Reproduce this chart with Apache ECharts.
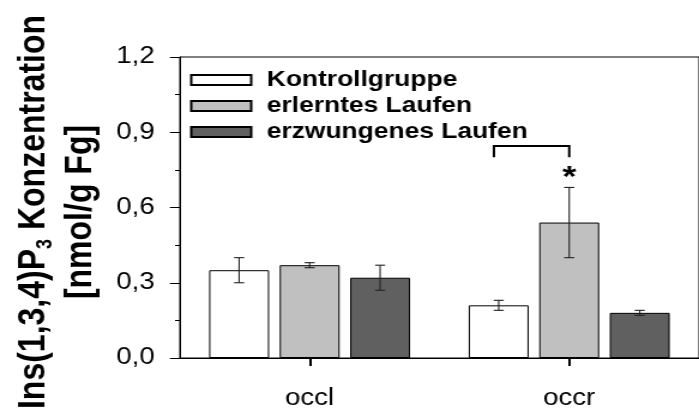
<!DOCTYPE html>
<html>
<head>
<meta charset="utf-8">
<script src="https://cdn.jsdelivr.net/npm/echarts@6/dist/echarts.min.js"></script>
<style>
  html, body { margin: 0; padding: 0; background: #fff; overflow: hidden; }
  #wrap { width: 699px; height: 410px; overflow: hidden; }
  /* the figure is laid out narrow and widened horizontally */
  #chart { width: 583px; height: 410px; transform: scaleX(1.19897); transform-origin: 0 0; }
</style>
</head>
<body>
<div id="wrap"><div id="chart"></div></div>
<script>
// Brain regions on the x axis
const categories = ['occl', 'occr'];
// Groups (legend order)
const groupNames = ['Kontrollgruppe', 'erlerntes Laufen', 'erzwungenes Laufen'];
const groupColors = ['#ffffff', '#c0c0c0', '#606060'];

// Ins(1,3,4)P3 concentration [nmol/g Fg], mean and error per region
const kontrollMean  = [0.35, 0.21];
const kontrollErr   = [0.05, 0.02];
const erlerntMean   = [0.37, 0.54];
const erlerntErr    = [0.01, 0.14];
const erzwungenMean = [0.32, 0.18];
const erzwungenErr  = [0.05, 0.01];

// y axis
const yMin = 0;
const yMax = 1.2;
const yStep = 0.3;

// significance marker: region index, first group, second group, bracket level, leg end, star level
const sigRegion = [1];
const sigGroups = [[0, 1]];
const sigLevels = [[0.845, 0.80, 0.72]];

const FONT = "'Liberation Sans', Arial, Helvetica, sans-serif";
const BAR_W = 50;
const BAR_GAP = 0.176;
const STEP = BAR_W * (1 + BAR_GAP);

const means = [kontrollMean, erlerntMean, erzwungenMean];
const errs = [kontrollErr, erlerntErr, erzwungenErr];

const chart = echarts.init(document.getElementById('chart'), null, { renderer: 'canvas' });

function errorRenderer(g) {
  return function (params, api) {
    const c = api.value(0);
    const m = api.value(1);
    const e = api.value(2);
    const x = api.coord([c, m])[0] + (g - 1) * STEP;
    const yHi = api.coord([c, m + e])[1];
    const yLo = api.coord([c, m - e])[1];
    const cap = 4.2;
    const st = { stroke: '#222', lineWidth: 1.1 };
    return {
      type: 'group',
      children: [
        { type: 'line', shape: { x1: x, y1: yHi, x2: x, y2: yLo }, style: st },
        { type: 'line', shape: { x1: x - cap, y1: yHi, x2: x + cap, y2: yHi }, style: st },
        { type: 'line', shape: { x1: x - cap, y1: yLo, x2: x + cap, y2: yLo }, style: st }
      ]
    };
  };
}

const series = [];
groupNames.forEach(function (name, g) {
  series.push({
    name: name,
    type: 'bar',
    data: means[g],
    barWidth: BAR_W,
    barGap: (BAR_GAP * 100) + '%',
    itemStyle: { color: groupColors[g], borderColor: '#000', borderWidth: 1 },
    z: 2
  });
});
groupNames.forEach(function (name, g) {
  series.push({
    type: 'custom',
    name: name + ' SEM',
    data: means[g].map(function (m, i) { return [i, m, errs[g][i]]; }),
    renderItem: errorRenderer(g),
    z: 5,
    silent: true
  });
});
series.push({
  type: 'custom',
  name: 'Signifikanz',
  data: sigRegion.map(function (r, k) {
    return [r, sigGroups[k][0], sigGroups[k][1], sigLevels[k][0], sigLevels[k][1], sigLevels[k][2]];
  }),
  renderItem: function (params, api) {
    const c = api.value(0);
    const center = api.coord([c, 0])[0];
    const xa = center + (api.value(1) - 1) * STEP - 4;
    const xb = center + (api.value(2) - 1) * STEP;
    const yTop = api.coord([c, api.value(3)])[1];
    const yLeg = api.coord([c, api.value(4)])[1];
    const yStar = api.coord([c, api.value(5)])[1];
    return {
      type: 'group',
      children: [
        { type: 'polyline', shape: { points: [[xa, yLeg], [xa, yTop], [xb, yTop], [xb, yLeg]] },
          style: { stroke: '#000', lineWidth: 2, fill: null } },
        { type: 'text', x: xb, y: yStar,
          style: { text: '*', fill: '#000', font: 'bold 30px ' + FONT, align: 'center', verticalAlign: 'middle' } }
      ]
    };
  },
  z: 6,
  silent: true
});

chart.setOption({
  animation: false,
  backgroundColor: '#fff',
  grid: {
    left: 150, top: 57, width: 441, height: 301.5,
    show: true, borderColor: '#000', borderWidth: 1, backgroundColor: 'transparent'
  },
  legend: {
    data: groupNames,
    orient: 'vertical',
    left: 153.5,
    top: 64,
    itemWidth: 50,
    itemHeight: 10,
    itemGap: 4,
    icon: 'rect',
    selectedMode: false,
    textStyle: { fontFamily: FONT, fontSize: 22, fontWeight: 'bold', color: '#000', lineHeight: 20, padding: [0, 0, 0, 8] }
  },
  xAxis: {
    type: 'category',
    data: categories,
    axisLine: { show: true, lineStyle: { color: '#000', width: 1 } },
    axisTick: { show: true, alignWithLabel: true, length: 8, lineStyle: { color: '#000', width: 2 } },
    axisLabel: { fontFamily: FONT, fontSize: 23, color: '#000', margin: 29 },
    splitLine: { show: false }
  },
  yAxis: {
    type: 'value',
    min: yMin, max: yMax, interval: yStep,
    axisLine: { show: true, lineStyle: { color: '#000', width: 1 } },
    axisTick: { show: true, length: 8.3, lineStyle: { color: '#000', width: 1 } },
    minorTick: { show: true, splitNumber: 2, length: 4, lineStyle: { color: '#000', width: 1 } },
    axisLabel: {
      fontFamily: FONT, fontSize: 23, color: '#000', margin: 21,
      formatter: function (v) { return v.toFixed(1).replace('.', ','); }
    },
    splitLine: { show: false }
  },
  graphic: [{
    type: 'text',
    x: 47.5,
    y: 212,
    rotation: Math.PI / 2,
    style: {
      text: '{m|Ins(1,3,4)P}{s|3}{m| Konzentration}\n{m|[nmol/g Fg]}',
      align: 'center',
      verticalAlign: 'middle',
      fill: '#000',
      rich: {
        m: { fontFamily: FONT, fontSize: 32, fontWeight: 'bold', lineHeight: 39, fill: '#000', align: 'center' },
        s: { fontFamily: FONT, fontSize: 18, fontWeight: 'bold', lineHeight: 4, verticalAlign: 'bottom', fill: '#000' }
      }
    }
  }],
  series: series
});
</script>
</body>
</html>
